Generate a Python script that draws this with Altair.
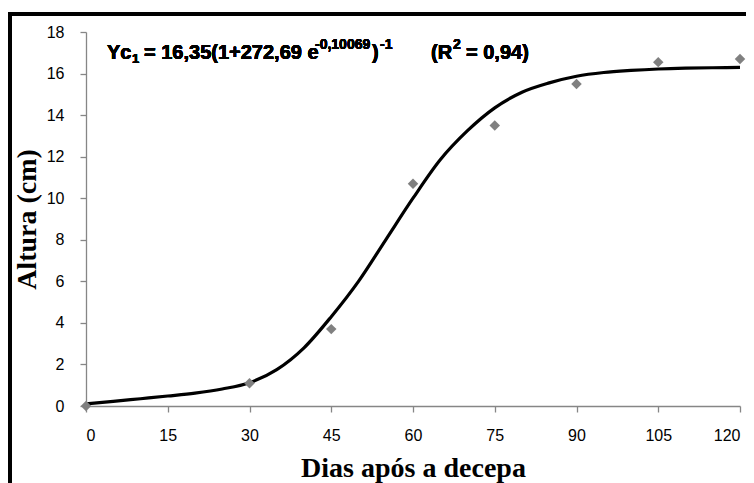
import altair as alt
import pandas as pd

# observed data points
obs_days = [0, 30, 45, 60, 75, 90, 105, 120]
obs_height = [0.0, 1.1, 3.7, 10.7, 13.5, 15.5, 16.55, 16.7]

# fitted curve
curve_days = [0, 5, 10, 15, 20, 25, 30, 35, 40, 45, 50, 55, 60, 65, 70, 75, 80, 85, 90, 95, 100, 105, 110, 115, 120]
curve_height = [0.1, 0.22, 0.35, 0.48, 0.62, 0.82, 1.12, 1.75, 2.8, 4.3, 6.0, 8.0, 10.0, 11.85, 13.25, 14.35, 15.1, 15.55, 15.87, 16.05, 16.15, 16.22, 16.26, 16.28, 16.3]

x_ticks = [0, 15, 30, 45, 60, 75, 90, 105, 120]
y_ticks = [0, 2, 4, 6, 8, 10, 12, 14, 16, 18]

obs = pd.DataFrame({"dias": obs_days, "altura": obs_height})
curve = pd.DataFrame({"dias": curve_days, "altura": curve_height})

W, H = 654, 374
AX = "#868686"

x_enc = alt.X(
    "dias:Q",
    scale=alt.Scale(domain=[0, 120], nice=False, zero=False),
    axis=alt.Axis(
        values=x_ticks, title="Dias após a decepa", grid=False,
        domainColor=AX, tickColor=AX, tickSize=6, domainWidth=1.3, tickWidth=1.3,
        labelFont="Liberation Sans", labelFontSize=16, labelColor="black", labelPadding=15,
        titleFont="Liberation Serif", titleFontSize=28, titleFontWeight="bold", titleColor="black",
        titleY=70, titleBaseline="alphabetic",
    ),
)
y_enc = alt.Y(
    "altura:Q",
    scale=alt.Scale(domain=[0, 18], nice=False),
    axis=alt.Axis(
        values=y_ticks, title="Altura (cm)", grid=False,
        domainColor=AX, tickColor=AX, tickSize=6, domainWidth=1.3, tickWidth=1.3,
        labelFont="Liberation Sans", labelFontSize=16, labelColor="black", labelPadding=16,
        titleFont="Liberation Serif", titleFontSize=28, titleFontWeight="bold", titleColor="black",
        titleX=-51, titleAngle=-90, titleBaseline="alphabetic",
    ),
)

line = alt.Chart(curve).mark_line(color="black", strokeWidth=3.2, interpolate="monotone").encode(x=x_enc, y=y_enc)
pts = alt.Chart(obs).mark_point(shape="diamond", filled=True, color="#808080", size=110, opacity=1).encode(x="dias:Q", y="altura:Q")

def txt(s, x, y, size=20):
    return alt.Chart(obs).mark_text(
        text=s, align="left", baseline="alphabetic", font="Liberation Sans",
        fontWeight="bold", fontSize=size, color="black",
    ).encode(x=alt.value(x), y=alt.value(y))

base_y = 27
eq = [
    txt("Yc", 21, base_y),
    txt("1", 46, base_y + 4, 13),
    txt("= 16,35(1+272,69 e", 58, base_y),
    txt("-0,10069", 229, base_y - 10, 14),
    txt(")", 286, base_y),
    txt("-1", 294, base_y - 10, 14),
    txt("(R", 345, base_y),
    txt("2", 367, base_y - 10, 14),
    txt("= 0,94)", 380, base_y),
]

frame_l = alt.Chart(obs).mark_rule(color="black", strokeWidth=4).encode(
    x=alt.value(-76), y=alt.value(-20), y2=alt.value(480))
frame_t = alt.Chart(obs).mark_rule(color="black", strokeWidth=4).encode(
    x=alt.value(-78), x2=alt.value(700), y=alt.value(-18))

chart = alt.layer(line, pts, *eq, frame_l, frame_t).properties(
    width=W, height=H,
    autosize=alt.AutoSizeParams(type="none"),
    padding={"left": 78, "top": 24, "right": 6, "bottom": 90},
    background="white",
).configure_view(stroke=None)

chart.save("out.html", embed_options={"renderer": "svg", "actions": False})
